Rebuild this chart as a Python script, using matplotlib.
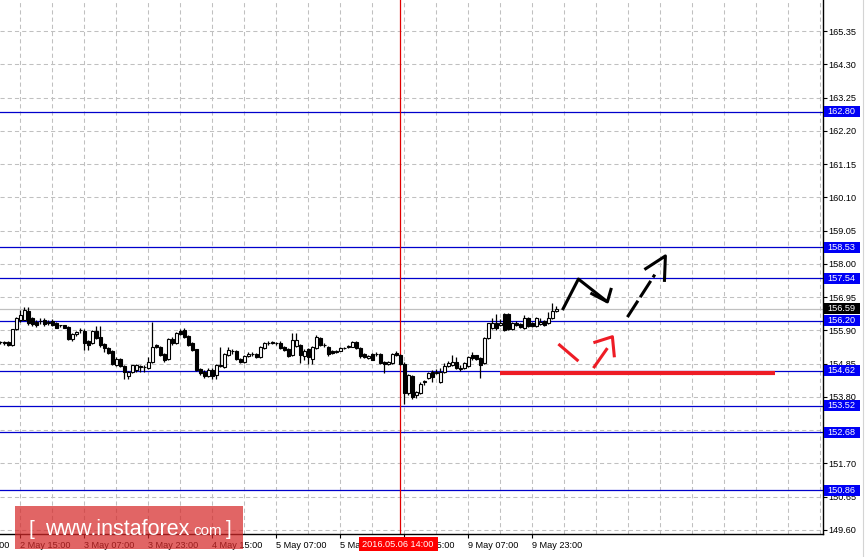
import matplotlib
matplotlib.use("Agg")
import matplotlib.pyplot as plt
import matplotlib.transforms as mtransforms
from matplotlib.patches import Rectangle
import pandas as pd

# H1 bars, bar 0 = 2 May 10:00 (4 px per bar on the original chart)
opens = [155.53, 155.54, 155.54, 155.44, 155.93, 156.24, 156.24, 156.52, 156.28, 156.17,
         156.19, 156.24, 156.12, 156.20, 156.12, 156.06, 156.06, 156.01, 155.63, 155.77,
         155.91, 155.89, 155.56, 155.51, 155.89, 155.70, 155.46, 155.33, 155.24, 154.80,
         154.99, 154.77, 154.46, 154.59, 154.64, 154.74, 154.73, 154.70, 154.91, 155.43,
         155.38, 155.17, 155.01, 155.64, 155.51, 155.89, 155.91, 155.72, 155.49, 155.30,
         154.68, 154.59, 154.45, 154.66, 154.49, 154.78, 154.73, 155.12, 155.24, 155.24,
         155.01, 154.91, 155.09, 155.17, 155.15, 155.07, 155.33, 155.49, 155.53, 155.50,
         155.50, 155.38, 155.30, 155.12, 155.40, 155.43, 155.09, 155.30, 155.00, 155.33,
         155.65, 155.45, 155.38, 155.26, 155.22, 155.26, 155.33, 155.36, 155.38, 155.54,
         155.33, 155.15, 155.02, 155.15, 155.14, 155.15, 154.91, 154.84, 154.86, 155.19,
         155.12, 154.85, 153.91, 154.45, 153.86, 153.93, 154.27, 154.39, 154.60, 154.55,
         154.28, 154.60, 154.78, 154.81, 154.91, 154.69, 154.70, 154.78, 155.12, 155.12,
         155.02, 154.86, 155.65, 155.97, 156.12, 156.07, 156.42, 156.42, 155.93, 156.14,
         156.10, 155.97, 156.28, 156.14, 156.04, 156.10, 156.21, 156.12, 156.28, 156.52]
closes = [155.52, 155.50, 155.44, 155.93, 156.28, 156.38, 156.54, 156.12, 156.09, 156.07,
          156.20, 156.09, 156.17, 156.07, 155.99, 156.06, 155.99, 155.63, 155.78, 155.85,
          155.90, 155.49, 155.43, 155.89, 155.67, 155.43, 155.33, 155.20, 154.83, 155.01,
          154.77, 154.59, 154.59, 154.80, 154.80, 154.77, 154.73, 154.91, 155.38, 155.36,
          155.12, 154.96, 155.64, 155.49, 155.82, 155.80, 155.70, 155.43, 155.28, 154.64,
          154.56, 154.45, 154.66, 154.45, 154.80, 154.80, 155.17, 155.28, 155.25, 155.01,
          154.91, 155.09, 155.17, 155.17, 155.07, 155.38, 155.49, 155.50, 155.50, 155.49,
          155.33, 155.28, 155.10, 155.59, 155.59, 155.12, 155.26, 155.07, 155.38, 155.68,
          155.44, 155.44, 155.17, 155.19, 155.25, 155.33, 155.33, 155.40, 155.54, 155.33,
          155.09, 155.07, 155.08, 154.98, 155.15, 154.88, 154.84, 154.89, 155.15, 155.12,
          154.84, 153.91, 154.49, 153.80, 153.96, 154.22, 154.30, 154.57, 154.42, 154.60,
          154.60, 154.76, 154.88, 154.91, 154.70, 154.70, 154.86, 155.05, 155.02, 154.99,
          154.81, 155.65, 156.12, 156.14, 155.97, 156.14, 155.91, 155.93, 156.12, 156.07,
          156.02, 156.28, 156.04, 156.04, 156.28, 156.15, 156.07, 156.28, 156.52, 156.59]
highs = [155.56, 155.58, 155.57, 155.95, 156.31, 156.54, 156.64, 156.64, 156.33, 156.22,
         156.28, 156.30, 156.22, 156.25, 156.15, 156.07, 156.07, 156.04, 155.82, 155.89,
         155.96, 155.93, 155.60, 155.91, 156.03, 156.03, 155.49, 155.36, 155.27, 155.05,
         155.02, 154.80, 154.63, 154.82, 154.83, 154.82, 154.80, 155.07, 156.17, 155.47,
         155.40, 155.20, 155.66, 155.68, 155.86, 155.95, 155.96, 155.75, 155.52, 155.32,
         154.72, 154.64, 154.70, 154.70, 154.83, 155.38, 155.20, 155.38, 155.30, 155.27,
         155.04, 155.12, 155.21, 155.22, 155.18, 155.41, 155.53, 155.55, 155.56, 155.54,
         155.56, 155.41, 155.33, 155.82, 155.83, 155.46, 155.30, 155.35, 155.42, 155.75,
         155.70, 155.50, 155.42, 155.29, 155.28, 155.36, 155.38, 155.43, 155.57, 155.57,
         155.36, 155.18, 155.11, 155.18, 155.22, 155.18, 154.94, 154.93, 155.18, 155.26,
         155.15, 154.91, 154.52, 154.50, 154.00, 154.26, 154.33, 154.60, 154.65, 154.67,
         154.70, 154.86, 154.94, 155.12, 155.05, 154.80, 154.90, 155.08, 155.23, 155.12,
         155.05, 155.68, 156.14, 156.28, 156.42, 156.25, 156.44, 156.44, 156.15, 156.20,
         156.14, 156.39, 156.31, 156.17, 156.31, 156.28, 156.24, 156.49, 156.75, 156.67]
lows = [155.46, 155.45, 155.41, 155.40, 155.90, 156.17, 156.22, 156.06, 156.04, 156.02,
        156.10, 156.05, 156.08, 156.03, 155.96, 156.01, 155.97, 155.59, 155.58, 155.73,
        155.83, 155.28, 155.28, 155.48, 155.64, 155.36, 155.22, 155.17, 154.80, 154.77,
        154.73, 154.38, 154.36, 154.55, 154.60, 154.59, 154.59, 154.68, 154.88, 155.33,
        155.08, 154.91, 154.98, 155.45, 155.47, 155.76, 155.67, 155.40, 155.25, 154.62,
        154.49, 154.39, 154.42, 154.38, 154.38, 154.75, 154.70, 155.09, 155.15, 154.98,
        154.87, 154.86, 155.05, 155.10, 155.04, 155.04, 155.30, 155.44, 155.46, 155.44,
        155.30, 155.24, 155.05, 155.09, 155.38, 154.86, 154.98, 154.84, 154.84, 155.30,
        155.40, 155.38, 155.09, 155.15, 155.18, 155.24, 155.30, 155.34, 155.36, 155.30,
        155.02, 155.04, 154.99, 154.95, 155.10, 154.85, 154.56, 154.80, 154.83, 155.08,
        154.80, 153.59, 153.86, 153.72, 153.78, 153.88, 154.18, 154.35, 154.28, 154.52,
        154.25, 154.57, 154.75, 154.78, 154.67, 154.62, 154.67, 154.75, 154.98, 154.95,
        154.39, 154.83, 155.62, 155.94, 155.92, 156.03, 155.88, 155.90, 155.90, 156.03,
        155.99, 155.94, 156.01, 156.00, 156.01, 156.07, 156.04, 156.09, 156.25, 156.49]

levels = [162.80, 158.53, 157.54, 156.20, 154.62, 153.52, 152.68, 150.86]
last_price = 156.59
price_ticks = [149.60, 150.65, 151.70, 152.75, 153.80, 154.85, 155.90, 156.95, 158.00,
               159.05, 160.10, 161.15, 162.20, 163.25, 164.30, 165.35, 166.40]
time_ticks = [-11, 5, 21, 37, 53, 69, 85, 101, 117, 133]
time_labels = ["1 May 23:00", "2 May 15:00", "3 May 07:00", "3 May 23:00", "4 May 15:00",
               "5 May 07:00", "5 May 23:00", "6 May 15:00", "9 May 07:00", "9 May 23:00"]
cursor_bar = 99.875
cursor_label = "2016.05.06 14:00"

# hand drawn forecast (bar, price)
black_zigzag = [(140.5, 156.54), (144.5, 157.52), (151.75, 156.80)]
black_head = [(147.5, 157.08), (151.75, 156.80), (152.75, 157.24)]
dashed_shaft = [(156.75, 156.32), (163.6, 157.66)]
dashed_head = [(161.0, 157.82), (166.25, 158.25), (166.0, 157.43)]
red_stroke = [(139.5, 155.47), (144.5, 154.93)]
red_shaft = [(148.25, 154.71), (151.75, 155.34)]
red_head = [(148.25, 155.51), (153.0, 155.70), (153.5, 155.05)]
red_support = [(125, 154.56), (193.75, 154.56)]

W, H = 868, 557
AX_RIGHT, AX_BOTTOM = 823, 534
BLUE_LINE = "#0000CC"
BLUE_BOX = "#0000F5"
GRID = "#C0C0C0"
RED = "#EE1C25"
FONT = ["Liberation Sans", "DejaVu Sans"]

plt.rcParams["lines.scale_dashes"] = False

df = pd.DataFrame({"open": opens, "high": highs, "low": lows, "close": closes})

fig = plt.figure(figsize=(W / 100, H / 100), dpi=100)
ax = fig.add_axes([0, (H - AX_BOTTOM) / H, AX_RIGHT / W, AX_BOTTOM / H])
ax.set_axisbelow(True)

# dashed grid
for i in range(26):
    ax.axvline(5 + 8 * i, color=GRID, lw=0.75, dashes=(3, 2.2), zorder=0)
for t in price_ticks:
    ax.axhline(t, color=GRID, lw=0.75, dashes=(3, 2.2), zorder=0)

# level lines and bid line
for lv in levels:
    ax.axhline(lv, color=BLUE_LINE, lw=0.9, zorder=1)
ax.axhline(last_price, color=GRID, lw=0.9, zorder=1)
ax.axvline(cursor_bar, color="#E00000", lw=0.9, zorder=1)

# candles
up = df["close"] >= df["open"]
ax.vlines(df.index, df["low"], df["high"], color="black", lw=0.9, zorder=3)
body_low = df[["open", "close"]].min(axis=1)
body_h = (df["close"] - df["open"]).abs()
ax.bar(df.index[up], body_h[up], bottom=body_low[up], width=0.62,
       facecolor="white", edgecolor="black", lw=0.8, zorder=4)
ax.bar(df.index[~up], body_h[~up], bottom=body_low[~up], width=0.62,
       facecolor="black", edgecolor="black", lw=0.8, zorder=4)

# forecast drawings
def draw(points, color, lw, **kw):
    xs, ys = zip(*points)
    ax.plot(xs, ys, color=color, lw=lw, solid_capstyle="butt", zorder=6, **kw)

draw(black_zigzag, "black", 2.2)
draw(black_head, "black", 2.2)
draw(dashed_shaft, "black", 2.2, dashes=(14, 3))
draw(dashed_head, "black", 2.2)
draw(red_stroke, RED, 2.2)
draw(red_shaft, RED, 2.2)
draw(red_head, RED, 2.2)
draw(red_support, RED, 3.0)

# axes frame
for side in ["left", "top"]:
    ax.spines[side].set_visible(False)
for side in ["right", "bottom"]:
    ax.spines[side].set_color("black")
    ax.spines[side].set_linewidth(1.0)

ax.yaxis.tick_right()
ax.set_yticks(price_ticks)
ax.set_yticklabels([f"{t:.2f}" for t in price_ticks], family=FONT, fontsize=6.6)
ax.tick_params(axis="y", length=2.6, width=0.8, pad=1.2, colors="black")
ax.set_xticks(time_ticks[1:])
ax.set_xticklabels(time_labels[1:], family=FONT, fontsize=6.6, ha="left")
ax.tick_params(axis="x", length=2.6, width=0.8, pad=2.5, colors="black")

# limits after the ticks, so the ticks do not widen the view
ax.set_xlim(-0.1, AX_RIGHT / 4 - 0.1)
ax.set_ylim(165.35 - (AX_BOTTOM - 31) / 31.68, 165.35 + 31 / 31.68)

xtrans = mtransforms.blended_transform_factory(ax.transData, fig.transFigure)
ytrans = mtransforms.blended_transform_factory(fig.transFigure, ax.transData)

# labels cut by the figure edges
ax.text(time_ticks[0] + 0.6, 1 - 545 / H, time_labels[0], transform=xtrans, family=FONT,
        fontsize=6.6, ha="left", va="center", clip_on=False)
ax.text(828.5 / W, price_ticks[-1], f"{price_ticks[-1]:.2f}", transform=ytrans,
        family=FONT, fontsize=6.6, ha="left", va="center", clip_on=False)

# price boxes on the right scale
box_h = 11 / 31.68
for lv, fc in [(v, BLUE_BOX) for v in levels] + [(last_price, "black")]:
    ax.add_patch(Rectangle((824 / W, lv - box_h / 2), 36 / W, box_h, transform=ytrans,
                           facecolor=fc, edgecolor="none", clip_on=False, zorder=9))
    ax.text(827.5 / W, lv, f"{lv:.2f}", transform=ytrans, color="white", family=FONT,
            fontsize=6.6, ha="left", va="center", clip_on=False, zorder=10)

# time label of the cursor
ax.add_patch(Rectangle((cursor_bar - 10.1, 1 - 551 / H), 79 / 4, 14 / H, transform=xtrans,
                       facecolor="#FF0000", edgecolor="none", clip_on=False, zorder=9))
ax.text(cursor_bar - 9.4, 1 - 544.5 / H, cursor_label, transform=xtrans, color="white",
        family=FONT, fontsize=6.6, ha="left", va="center", clip_on=False, zorder=10)

# window edge on the right
fig.add_artist(plt.Line2D([862.5 / W, 862.5 / W], [0, 1], color="#D4D4D4", lw=0.8))

# watermark
fig.add_artist(Rectangle((15 / W, 1 - 549 / H), 228 / W, 43 / H, transform=fig.transFigure,
                         facecolor=(0.84, 0.16, 0.16), alpha=0.72, edgecolor="none", zorder=20))
base = 1 - 535 / H
fig.text(29 / W, base, "[", color="white", family=FONT, fontsize=15,
         va="baseline", zorder=21)
fig.text(45 / W, base, "www.instaforex", color="white", family=FONT, fontsize=15.5,
         va="baseline", zorder=21)
fig.text(193 / W, base, "com", color="white", family=FONT, fontsize=11,
         va="baseline", zorder=21)
fig.text(226 / W, base, "]", color="white", family=FONT, fontsize=15,
         va="baseline", zorder=21)

fig.savefig("out.png", dpi=100, facecolor="white")
